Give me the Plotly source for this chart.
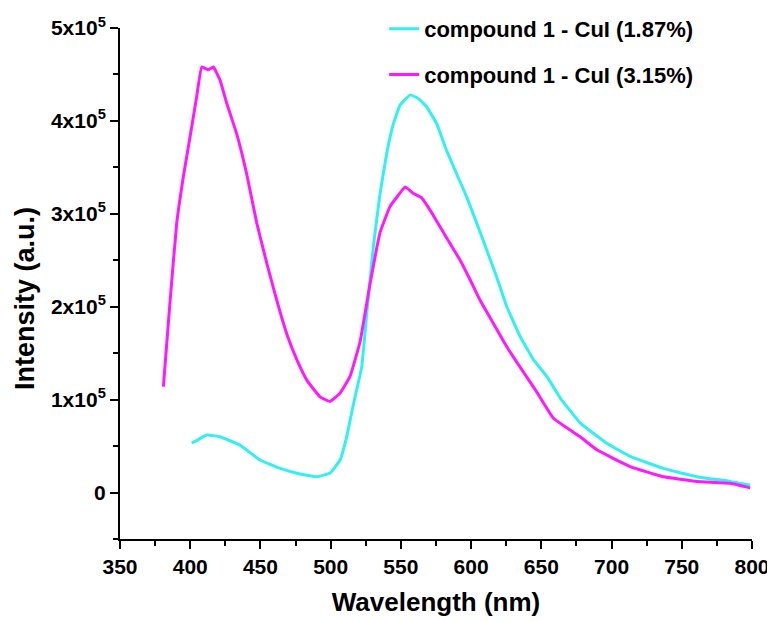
import plotly.graph_objects as go

# Series: compound 1 - CuI (3.15%)  (intensity in units of 1e5)
wl_315 = [380.9, 385.6, 390.4, 395.1, 399.9, 404.6, 408.2, 412.9, 416.5, 421.2, 426.0, 433.1, 440.2, 447.4,
          454.5, 461.6, 468.7, 475.9, 483.0, 492.4, 499.6, 506.7, 513.8, 520.9, 528.1, 535.2, 542.3, 548.2,
          553.0, 558.9, 564.9, 570.8, 577.9, 585.0, 592.2, 599.3, 606.4, 615.9, 625.4, 634.9, 646.8, 658.6,
          677.6, 689.5, 713.2, 736.9, 760.7, 784.5, 798.7]
int_315 = [1.14, 2.05, 2.90, 3.40, 3.83, 4.26, 4.58, 4.55, 4.58, 4.44, 4.19, 3.86, 3.43, 2.90,
           2.47, 2.07, 1.71, 1.43, 1.21, 1.03, 0.98, 1.07, 1.25, 1.62, 2.25, 2.80, 3.08, 3.20,
           3.29, 3.22, 3.17, 3.04, 2.86, 2.68, 2.50, 2.29, 2.07, 1.82, 1.57, 1.35, 1.08, 0.80,
           0.60, 0.46, 0.28, 0.17, 0.12, 0.10, 0.05]

# Series: compound 1 - CuI (1.87%)
wl_187 = [401.1, 411.8, 421.2, 435.5, 449.7, 464.0, 478.2, 490.1, 499.6, 506.7, 511.4, 516.2, 522.1, 525.7,
          530.4, 535.2, 539.9, 544.7, 549.4, 556.6, 562.5, 568.4, 575.5, 582.6, 589.7, 596.9, 604.0, 611.1,
          618.2, 625.4, 634.9, 644.4, 653.9, 663.4, 677.6, 696.6, 713.2, 736.9, 760.7, 784.5, 798.7]
int_187 = [0.53, 0.62, 0.60, 0.51, 0.35, 0.26, 0.20, 0.17, 0.21, 0.35, 0.60, 0.95, 1.35, 1.93,
           2.65, 3.22, 3.65, 3.97, 4.17, 4.28, 4.24, 4.15, 3.97, 3.68, 3.43, 3.18, 2.90, 2.61,
           2.32, 2.00, 1.68, 1.43, 1.25, 1.02, 0.75, 0.53, 0.39, 0.26, 0.17, 0.12, 0.08]

x_ticks = [350, 400, 450, 500, 550, 600, 650, 700, 750, 800]
y_tickvals = [0, 1e5, 2e5, 3e5, 4e5, 5e5]
y_ticktext = ["0", "1x10<sup>5</sup>", "2x10<sup>5</sup>", "3x10<sup>5</sup>", "4x10<sup>5</sup>", "5x10<sup>5</sup>"]

scale = 1e5
FONT = "Liberation Sans, Arial, sans-serif"

fig = go.Figure()
fig.add_trace(go.Scatter(x=wl_187, y=[v * scale for v in int_187], mode="lines",
                         name="compound 1 - CuI (1.87%)", legendgroup="a",
                         line=dict(color="#33F0F0", width=3, shape="spline", smoothing=0.3)))
fig.add_trace(go.Scatter(x=wl_315, y=[v * scale for v in int_315], mode="lines",
                         name="compound 1 - CuI (3.15%)", legendgroup="b",
                         line=dict(color="#FF19FF", width=3, shape="spline", smoothing=0.3)))

axis_common = dict(showline=True, linecolor="black", linewidth=2, ticks="outside", ticklen=8,
                   tickwidth=2, tickcolor="black", showgrid=False, zeroline=False, mirror=False,
                   automargin=False,
                   tickfont=dict(family=FONT, size=21, color="black", weight="bold"))

fig.update_xaxes(range=[350, 800], tickvals=x_ticks,
                 minor=dict(ticks="outside", ticklen=5, tickwidth=2, dtick=25, tick0=350, tickcolor="black", showgrid=False),
                 title=dict(text="Wavelength (nm)", font=dict(family=FONT, size=26, color="black", weight="bold"), standoff=16),
                 **axis_common)
fig.update_yaxes(range=[-50000, 500000], tickvals=y_tickvals, ticktext=y_ticktext,
                 minor=dict(ticks="outside", ticklen=5, tickwidth=2, dtick=50000, tick0=0, tickcolor="black", showgrid=False),
                 **axis_common)

fig.update_layout(
    width=775, height=621,
    margin=dict(l=112, r=31, t=20, b=90, autoexpand=False),
    plot_bgcolor="white", paper_bgcolor="white",
    legend=dict(x=0.418, y=1.039, xanchor="left", yanchor="top", bgcolor="rgba(0,0,0,0)",
                font=dict(family=FONT, size=22, color="black", weight="bold"),
                tracegroupgap=14),
    showlegend=True,
    annotations=[dict(text="Intensity (a.u.)", xref="paper", yref="paper", x=-0.150, y=0.47,
                      textangle=-90, showarrow=False, xanchor="center", yanchor="middle",
                      font=dict(family=FONT, size=27, color="black", weight="bold"))],
)

fig.write_html("out.html")
